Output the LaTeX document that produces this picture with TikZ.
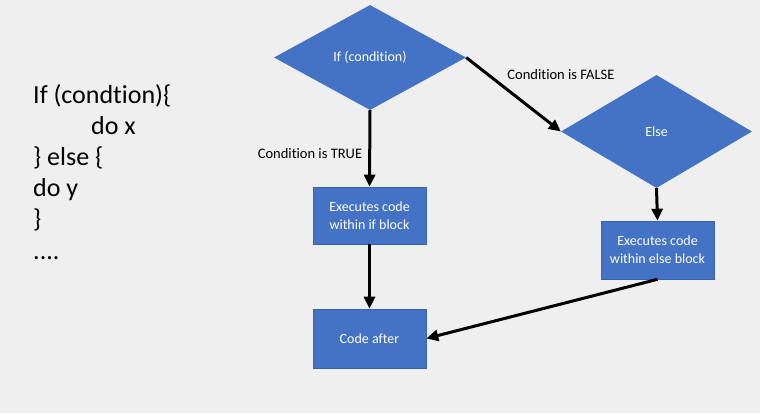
\documentclass[tikz,border=0pt]{standalone}
\usepackage{fontspec}
\setmainfont[Ligatures=NoCommon]{Carlito}
\usetikzlibrary{shapes.geometric,arrows.meta}

\definecolor{slidebg}{HTML}{EFEFEF}
\definecolor{officeblue}{HTML}{4472C4}
\definecolor{blueedge}{HTML}{3A62A8}
\newcommand\fourdots{....}

\tikzset{
	decision/.style={diamond, fill=officeblue, inner sep=0pt, text=white, font=\fontsize{14}{17}\selectfont},
	block/.style={rectangle, fill=officeblue, draw=blueedge, line width=0.6pt, inner sep=0pt, text=white, align=center, minimum width=113pt, font=\fontsize{14}{18}\selectfont},
	flow/.style={line width=3pt, -{Triangle[length=12pt,width=11pt]}},
	edgetext/.style={font=\fontsize{14.5}{17}\selectfont, inner sep=0pt},
	codeline/.style={anchor=base west, inner sep=0pt, font=\fontsize{26}{31}\selectfont}
}

\begin{document}
\begin{tikzpicture}[x=1pt, y=-1pt]
	\fill[slidebg] (0,0) rectangle (760,413);
	\useasboundingbox (0,0) rectangle (760,413);

	% code on the left
	\foreach \t [count=\i] in {{If (condtion)\{}, {\hspace*{58pt}do x}, {\} else \{}, {do y}, {\}}, \fourdots}
		\node[codeline] (line\i) at (33, 71.8+31.2*\i) {\t};

	% flow chart
	\node[decision, minimum width=192pt, minimum height=105pt] (ifnode) at (370,57.5) {If (condition)};
	\node[decision, minimum width=191pt, minimum height=113pt] (elsenode) at (656.5,131.5) {Else};
	\node[block, minimum height=57pt] (ifblock) at (369.5,215.5) {Executes code\\within if block};
	\node[block, minimum height=58pt] (elseblock) at (657.5,250) {Executes code\\within else block};
	\node[block, minimum height=59pt] (after) at (369.5,338.5) {Code after};

	\draw[flow] (ifnode.south) -- (ifblock.north);
	\draw[flow] (ifnode.east) -- (elsenode.west);
	\draw[flow] (elsenode.south) -- (elseblock.north);
	\draw[flow] (ifblock.south) -- (after.north);
	\draw[flow] (elseblock.south) -- (after.east);

	\node[edgetext] (truetext) at (310,154) {Condition is TRUE};
	\node[edgetext] (falsetext) at (561,75) {Condition is FALSE};
\end{tikzpicture}
\end{document}
